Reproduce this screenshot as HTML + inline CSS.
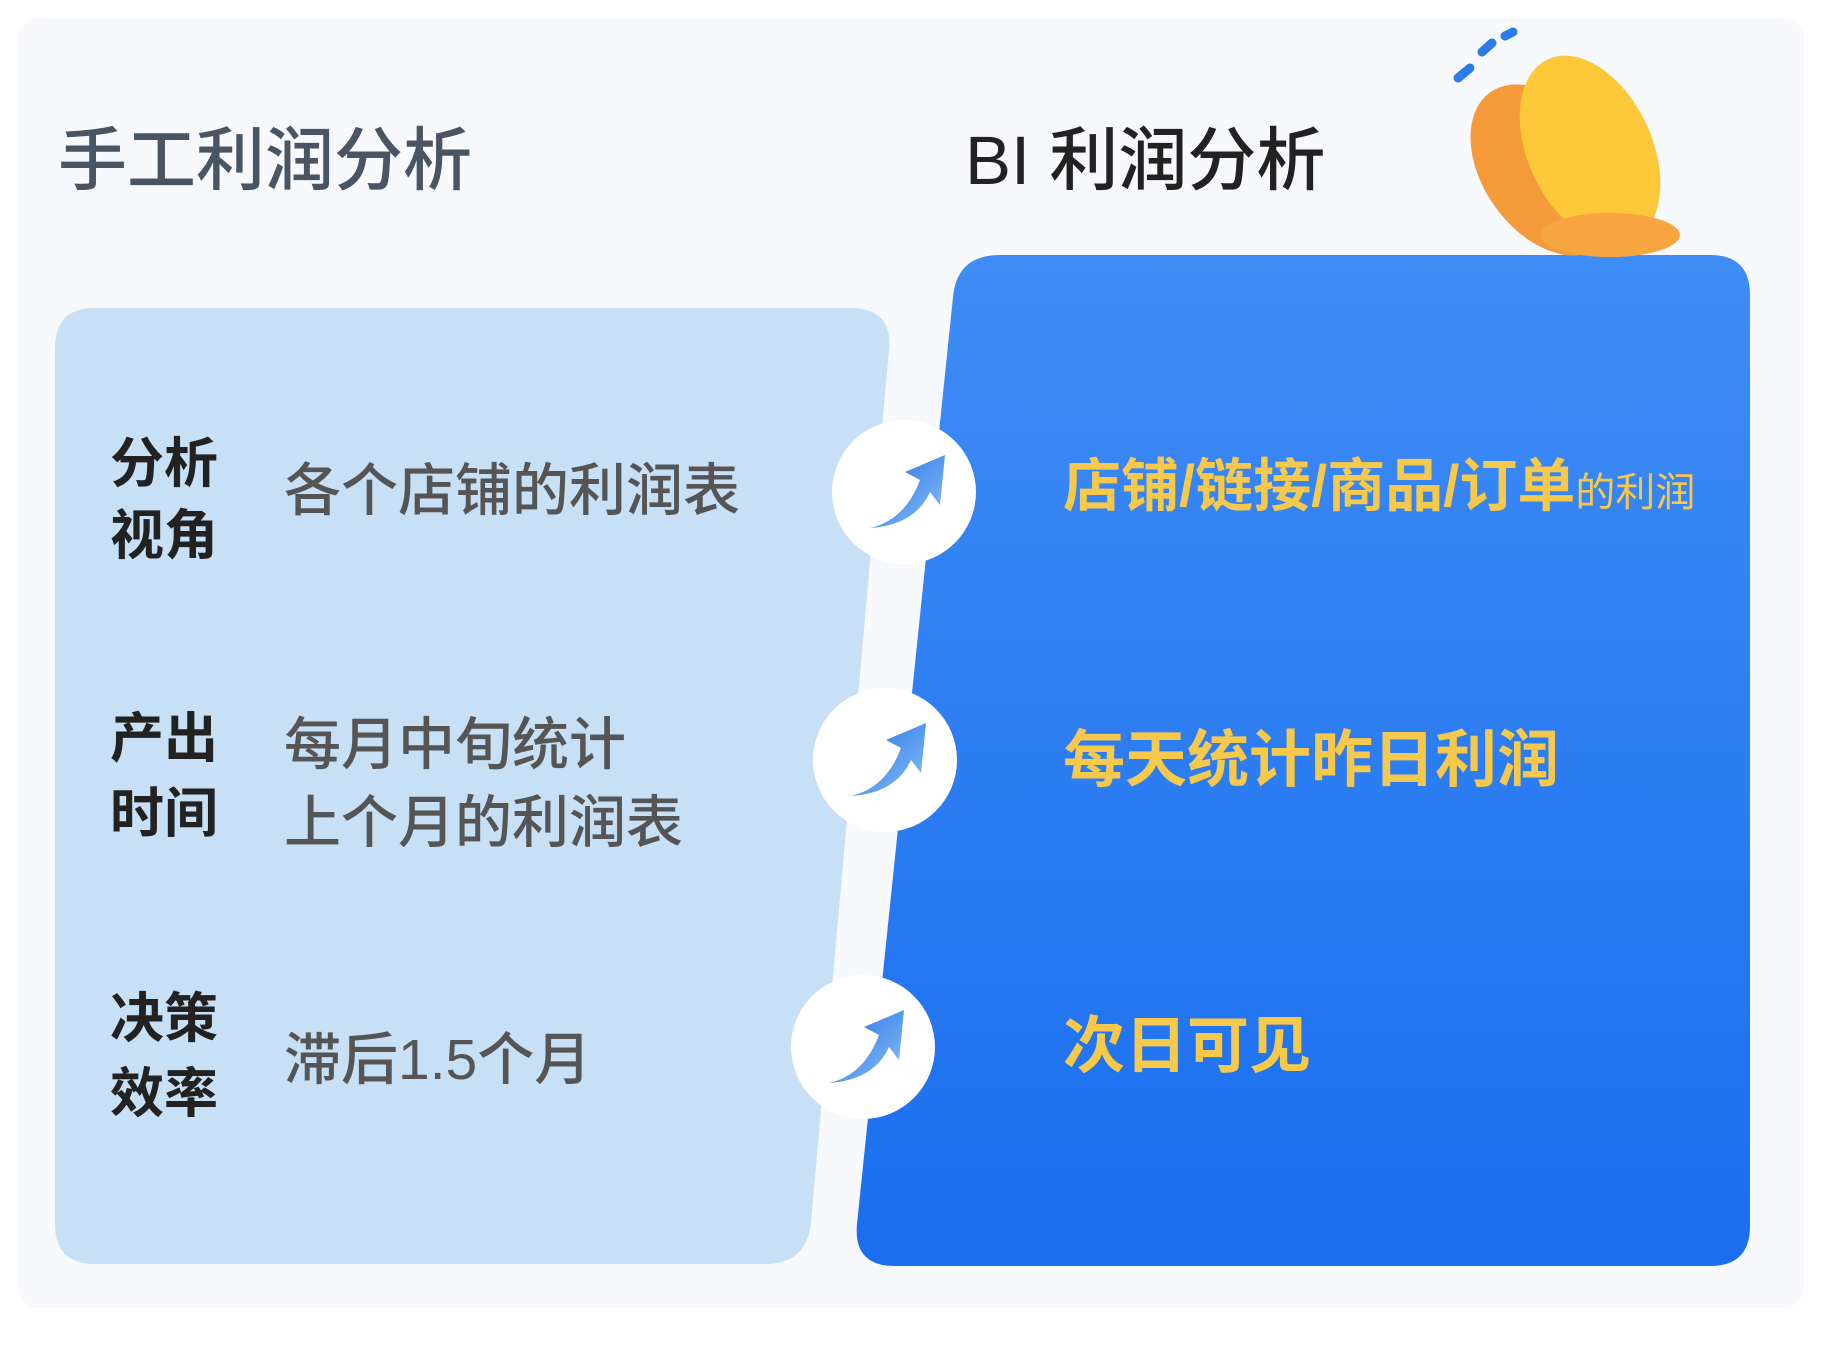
<!DOCTYPE html>
<html><head><meta charset="utf-8"><style>
html,body{margin:0;padding:0;width:1822px;height:1362px;overflow:hidden;background:#fff}
.t{position:absolute;font-family:"Liberation Sans","Noto Sans CJK SC",sans-serif;white-space:nowrap;line-height:1}
</style></head><body>
<div style="position:absolute;left:18px;top:18px;width:1786px;height:1290px;background:#f7f9fd;border-radius:20px"></div>
<svg width="1822" height="1362" style="position:absolute;left:0;top:0">
<defs>
<linearGradient id="g" x1="0" y1="0" x2="0" y2="1"><stop offset="0" stop-color="#3f8cf5"/><stop offset="1" stop-color="#1a6eef"/></linearGradient>
<linearGradient id="a" x1="0" y1="0" x2="1" y2="1"><stop offset="0" stop-color="#1f6fe8"/><stop offset="1" stop-color="#8cc0f5"/></linearGradient>
</defs>
<path d="M95 308 H850 Q893 308 889 350 L811 1222 Q807 1264 765 1264 H95 Q55 1264 55 1224 V348 Q55 308 95 308 Z" fill="#c8e0f5"/>
<path d="M1000 255 H1710 Q1750 255 1750 295 V1226 Q1750 1266 1710 1266 H895 Q853 1266 857 1224 L953 297 Q957 255 1000 255 Z" fill="url(#g)"/>
<g fill="#fff">
<circle cx="904" cy="492" r="72"/><circle cx="885" cy="760" r="72"/><circle cx="863" cy="1047" r="72"/>
</g>
<g fill="url(#a)">
<path d="M870 528 Q905 520 920 480 L905 472 L945 455 L940 505 L930 492 Q915 525 870 528 Z"/>
<path d="M851 796 Q886 788 901 748 L886 740 L926 723 L921 773 L911 760 Q896 793 851 796 Z"/>
<path d="M829 1083 Q864 1075 879 1035 L864 1027 L904 1010 L899 1060 L889 1047 Q874 1080 829 1083 Z"/>
</g>
<g>
<ellipse cx="1545" cy="170" rx="62" ry="95" fill="#f59a3a" transform="rotate(-35 1545 170)"/>
<ellipse cx="1590" cy="150" rx="62" ry="100" fill="#fcc83a" transform="rotate(-25 1590 150)"/>
<ellipse cx="1610" cy="235" rx="70" ry="22" fill="#f7a540"/>
<path d="M1458 78 l12 -10 M1482 52 l10 -9 M1505 36 l8 -4" stroke="#2a7de8" stroke-width="9" stroke-linecap="round"/>
</g>
</svg>
<div class="t" style="left:58px;top:126px;font-size:69px;font-weight:500;color:#4a5563">手工利润分析</div>
<div class="t" style="left:965px;top:126px;font-size:69px;font-weight:500;color:#222">BI 利润分析</div>
<div class="t" style="left:110px;top:428px;font-size:54px;font-weight:bold;color:#222;line-height:72px">分析<br>视角</div>
<div class="t" style="left:284px;top:463px;font-size:57px;font-weight:500;color:#555">各个店铺的利润表</div>
<div class="t" style="left:110px;top:702px;font-size:54px;font-weight:bold;color:#222;line-height:75px">产出<br>时间</div>
<div class="t" style="left:284px;top:706px;font-size:57px;font-weight:500;color:#555;line-height:78px">每月中旬统计<br>上个月的利润表</div>
<div class="t" style="left:110px;top:982px;font-size:54px;font-weight:bold;color:#222;line-height:75px">决策<br>效率</div>
<div class="t" style="left:284px;top:1032px;font-size:57px;font-weight:500;color:#555">滞后1.5个月</div>
<div class="t" style="left:1063px;top:458px;font-size:58px;font-weight:bold;color:#f6c84c">店铺/链接/商品/订单<span style="font-size:40px;font-weight:normal">的利润</span></div>
<div class="t" style="left:1063px;top:730px;font-size:62px;font-weight:bold;color:#f6c84c">每天统计昨日利润</div>
<div class="t" style="left:1063px;top:1016px;font-size:62px;font-weight:bold;color:#f6c84c">次日可见</div>
</body></html>
